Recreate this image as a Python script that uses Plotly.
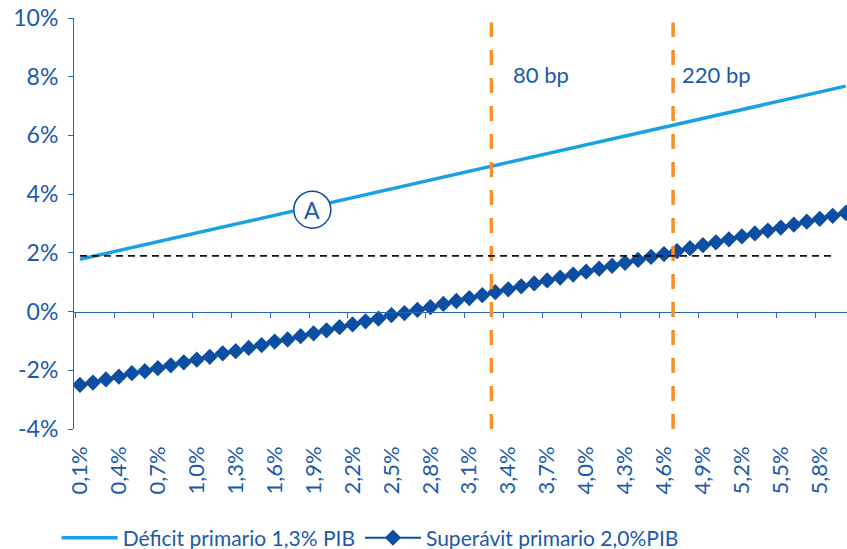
import plotly.graph_objects as go

rate = [0.1, 0.2, 0.3, 0.4, 0.5, 0.6, 0.7, 0.8, 0.9, 1.0,
        1.1, 1.2, 1.3, 1.4, 1.5, 1.6, 1.7, 1.8, 1.9, 2.0,
        2.1, 2.2, 2.3, 2.4, 2.5, 2.6, 2.7, 2.8, 2.9, 3.0,
        3.1, 3.2, 3.3, 3.4, 3.5, 3.6, 3.7, 3.8, 3.9, 4.0,
        4.1, 4.2, 4.3, 4.4, 4.5, 4.6, 4.7, 4.8, 4.9, 5.0,
        5.1, 5.2, 5.3, 5.4, 5.5, 5.6, 5.7, 5.8, 5.9, 6.0]

deficit = [1.78, 1.88, 1.97, 2.09, 2.17, 2.29, 2.37, 2.48, 2.57, 2.68,
           2.77, 2.88, 2.97, 3.08, 3.17, 3.28, 3.37, 3.47, 3.57, 3.67,
           3.77, 3.87, 3.97, 4.07, 4.17, 4.27, 4.37, 4.47, 4.57, 4.67,
           4.77, 4.88, 4.97, 5.08, 5.17, 5.28, 5.37, 5.48, 5.57, 5.68,
           5.77, 5.88, 5.97, 6.08, 6.17, 6.28, 6.37, 6.48, 6.57, 6.68,
           6.77, 6.88, 6.97, 7.08, 7.17, 7.28, 7.37, 7.48, 7.58, 7.68]

superavit = [-2.50, -2.42, -2.31, -2.22, -2.10, -2.03, -1.93, -1.83, -1.73, -1.64,
             -1.54, -1.42, -1.35, -1.24, -1.14, -1.02, -0.95, -0.84, -0.74, -0.64,
             -0.53, -0.44, -0.33, -0.24, -0.12, -0.05, 0.06, 0.15, 0.26, 0.36,
             0.46, 0.56, 0.66, 0.76, 0.86, 0.96, 1.06, 1.16, 1.26, 1.36,
             1.46, 1.56, 1.66, 1.76, 1.86, 1.96, 2.06, 2.16, 2.26, 2.36,
             2.46, 2.56, 2.66, 2.76, 2.86, 2.96, 3.06, 3.16, 3.26, 3.36]

tick_vals = [0.1, 0.4, 0.7, 1.0, 1.3, 1.6, 1.9, 2.2, 2.5, 2.8,
             3.1, 3.4, 3.7, 4.0, 4.3, 4.6, 4.9, 5.2, 5.5, 5.8]
tick_text = ["0,1%", "0,4%", "0,7%", "1,0%", "1,3%", "1,6%", "1,9%", "2,2%", "2,5%", "2,8%",
             "3,1%", "3,4%", "3,7%", "4,0%", "4,3%", "4,6%", "4,9%", "5,2%", "5,5%", "5,8%"]
y_ticks = [-4, -2, 0, 2, 4, 6, 8, 10]
y_text = ["-4%", "-2%", "0%", "2%", "4%", "6%", "8%", "10%"]

vlines = [3.27, 4.67]
vlabels = ["80 bp", "220 bp"]
vlabel_y = 8.06
hline_y = 1.9
hline_x = [0.1, 5.9]
circle_pt = (1.89, 3.47)
circle_label = "A"

LIGHT = "#18a2e2"
DARK = "#0b4ea2"
TEXT = "#1a5aab"
ORANGE = "#f7902b"
AXIS = "#2a66b8"
FONT = "Lato"

fig = go.Figure()
fig.add_trace(go.Scatter(x=rate, y=deficit, mode="lines", name="Déficit primario 1,3% PIB",
                         line=dict(color=LIGHT, width=3.5)))
fig.add_trace(go.Scatter(x=rate, y=superavit, mode="lines+markers", name="Superávit primario 2,0%PIB",
                         line=dict(color=DARK, width=2),
                         marker=dict(symbol="diamond", size=12.5, color=DARK)))
# invisible trace on secondary x axis so it renders
fig.add_trace(go.Scatter(x=[rate[0]], y=[0], xaxis="x2", mode="markers",
                         marker=dict(opacity=0), showlegend=False, hoverinfo="skip"))

xr = [0.054, 6.01]
label_shifts = [20, 7]
for xv, lab, sh in zip(vlines, vlabels, label_shifts):
    fig.add_shape(type="line", x0=xv, x1=xv, y0=-4, y1=9.85, xref="x", yref="y",
                  line=dict(color=ORANGE, width=3.5, dash="15px,13px"), layer="above")
    fig.add_annotation(x=xv, y=vlabel_y, xref="x", yref="y", text=lab, showarrow=False,
                       xanchor="left", xshift=sh, font=dict(family=FONT, size=22, color=TEXT))

fig.add_shape(type="line", x0=hline_x[0], x1=hline_x[1], y0=hline_y, y1=hline_y,
              xref="x", yref="y", line=dict(color="#111111", width=1.8, dash="7px,5px"), layer="above")

fig.add_shape(type="circle", xref="x", yref="y", xsizemode="pixel", ysizemode="pixel",
              xanchor=circle_pt[0], yanchor=circle_pt[1], x0=-18.5, x1=18.5, y0=-18.5, y1=18.5,
              line=dict(color=DARK, width=1.5), fillcolor="white", layer="above")
fig.add_annotation(x=circle_pt[0], y=circle_pt[1], xref="x", yref="y", text=circle_label,
                   showarrow=False, font=dict(family=FONT, size=23, color=TEXT))

fig.update_layout(
    width=847, height=549,
    margin=dict(l=74, r=0, t=18, b=120),
    paper_bgcolor="white", plot_bgcolor="white",
    font=dict(family=FONT, color=TEXT, size=20),
    showlegend=True,
    legend=dict(orientation="h", xref="container", yref="container", x=0.437, xanchor="center",
                y=0.02, yanchor="middle", font=dict(family=FONT, size=21, color=TEXT),
                itemwidth=56, tracegroupgap=0, bgcolor="rgba(0,0,0,0)"),
    xaxis=dict(range=xr, tickmode="array", tickvals=tick_vals, ticktext=tick_text,
               tickangle=-90, showgrid=False, zeroline=False, showline=False, ticks="",
               ticklabelstandoff=12, tickfont=dict(family=FONT, size=22, color=TEXT)),
    xaxis2=dict(range=xr, overlaying="x", anchor="free", position=4/14, side="bottom",
                tickmode="array", tickvals=[v - 0.035 for v in tick_vals],
                showticklabels=False, ticks="outside", ticklen=5, tickcolor=AXIS, tickwidth=1,
                showline=True, linecolor=AXIS, linewidth=1, showgrid=False, zeroline=False),
    yaxis=dict(range=[-4, 10], tickmode="array", tickvals=y_ticks, ticktext=y_text,
               showgrid=False, zeroline=False, showline=True, linecolor=AXIS, linewidth=1,
               ticks="outside", ticklen=5, tickcolor=AXIS, ticklabelstandoff=5,
               tickfont=dict(family=FONT, size=23, color=TEXT)),
)

fig.write_html("out.html")
